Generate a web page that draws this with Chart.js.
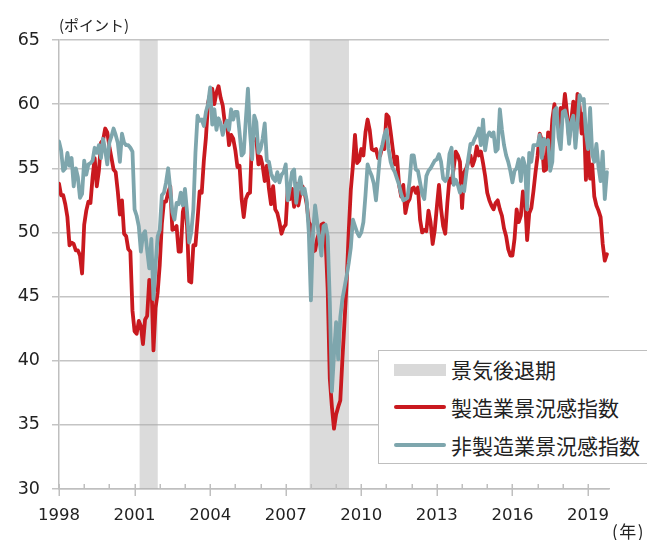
<!DOCTYPE html>
<html><head><meta charset="utf-8">
<script src="https://cdn.jsdelivr.net/npm/chart.js@4/dist/chart.umd.min.js"></script>
<style>
html,body{margin:0;padding:0;background:#fff;overflow:hidden;}
#wrap{position:relative;width:647px;height:540px;overflow:hidden;}
#c{position:absolute;left:0;top:0;}
.t{position:absolute;font-family:"Noto Sans CJK JP","Noto Sans",sans-serif;color:#222;white-space:nowrap;}
#legend{position:absolute;left:378px;top:350px;width:290px;height:112px;border:1.5px solid #bfbfbf;background:#fff;}
.lg{position:absolute;left:15px;width:52px;}
.lt{position:absolute;left:72px;font-family:"Noto Sans CJK JP",sans-serif;font-size:21px;line-height:24px;color:#222;white-space:nowrap;}
</style></head>
<body><div id="wrap">
<canvas id="c" width="647" height="540"></canvas>
<div class="t" id="unitY" style="left:59px;top:14px;font-size:15px;">(ポイント)</div>
<div class="t" id="unitX" style="left:612px;top:518px;font-size:17px;letter-spacing:1.5px;">(年)</div>
<div id="legend">
  <div class="lg" style="top:13px;height:12px;background:#d9d9d9;"></div>
  <div class="lt" style="top:6px;">景気後退期</div>
  <div class="lg" style="top:54px;height:4px;background:#c9191f;border-radius:2px;"></div>
  <div class="lt" style="top:44px;">製造業景況感指数</div>
  <div class="lg" style="top:92px;height:4px;background:#7ea6ad;border-radius:2px;"></div>
  <div class="lt" style="top:82px;">非製造業景況感指数</div>
</div>
</div>
<script>
const startYear = 1998;
const endYear = 2019 + 10/12;
const yearTicks = [1998, 2001, 2004, 2007, 2010, 2013, 2016, 2019];
const seriesNames = ['製造業景況感指数', '非製造業景況感指数', '景気後退期'];
const recessions = [[2001.2, 2001.92], [2007.95, 2009.51]];

// 製造業景況感指数 (monthly, Jan 1998 - Oct 2019)
const mfg = [
 53.8,52.9,52.9,52.2,51.2,49.0,49.2,49.1,48.6,48.6,48.2,46.8,
 50.6,51.7,52.4,52.3,54.3,55.8,53.6,54.8,57.0,57.2,58.1,57.8,
 56.7,55.8,54.9,54.7,53.2,51.4,52.5,49.9,49.7,48.7,48.5,43.9,
 42.3,42.1,43.1,42.7,41.3,43.2,43.5,46.3,46.2,40.8,44.1,45.3,
 47.5,50.7,52.4,52.4,53.1,53.6,50.2,50.3,50.5,48.5,48.5,51.6,
 52.3,50.5,46.2,46.1,49.0,49.0,51.0,53.2,53.1,55.6,57.4,60.1,
 60.8,61.2,60.0,60.9,61.4,60.5,59.9,58.5,58.5,56.8,57.6,57.3,
 56.4,55.1,55.2,52.6,51.2,52.6,53.0,53.1,57.5,57.2,57.3,55.3,
 55.9,55.2,54.0,55.2,53.4,52.2,53.6,51.8,51.5,50.8,49.9,50.4,
 50.6,53.5,52.6,53.4,52.0,53.8,52.1,53.0,53.6,53.1,52.2,50.8,
 50.5,48.5,48.6,49.5,50.0,50.6,50.7,49.4,45.5,38.6,36.4,34.7,
 35.8,36.4,36.9,40.1,43.0,46.0,50.0,53.3,55.2,57.6,55.4,55.6,
 56.5,56.0,57.8,58.8,58.0,56.5,56.4,56.5,55.8,56.0,56.7,56.5,
 59.2,59.0,57.8,56.5,55.3,55.9,53.7,52.8,53.7,51.5,52.3,52.6,
 53.4,53.5,53.1,53.5,51.0,50.0,50.2,50.1,51.7,50.8,49.1,50.2,
 52.0,53.7,51.8,50.5,49.9,52.3,54.2,53.9,55.0,56.3,56.0,55.5,
 51.9,54.7,55.0,55.5,56.0,55.2,55.7,56.7,56.0,56.3,55.4,54.4,
 53.1,52.5,52.1,51.8,52.3,52.5,51.8,51.3,50.3,49.7,48.7,48.2,
 48.2,49.5,51.8,50.8,51.3,53.2,52.6,49.4,51.5,51.9,53.2,54.7,
 56.0,57.7,57.2,54.8,54.9,57.8,56.3,58.8,60.0,58.7,58.2,59.7,
 59.1,60.8,59.3,57.3,58.7,60.2,58.1,60.8,59.8,57.7,59.3,54.1,
 56.6,54.2,55.3,52.8,52.1,51.7,51.2,49.1,47.8,48.3
];

// 非製造業景況感指数 (monthly, Jan 1998 - Oct 2019)
const nonMfg = [
 57.1,56.4,54.8,55.0,56.2,55.2,55.8,53.6,55.0,54.3,52.7,53.0,
 55.6,54.5,55.3,55.4,55.6,56.6,56.2,56.8,55.8,57.3,56.4,55.3,
 57.0,57.5,58.1,57.6,57.0,55.5,57.7,57.0,56.8,56.8,56.6,56.3,
 51.8,51.3,50.5,48.5,49.8,50.1,48.6,47.2,49.5,44.8,47.5,49.7,
 50.2,52.9,53.1,53.9,55.0,53.4,51.6,51.0,52.3,52.2,53.1,52.1,
 53.4,51.6,49.2,50.0,51.8,56.2,59.1,58.7,58.8,58.3,59.4,60.0,
 61.3,58.4,59.6,58.0,58.9,58.5,57.6,58.3,58.7,58.0,59.6,58.8,
 59.4,59.4,57.8,56.0,56.2,58.8,61.2,57.8,55.7,59.1,58.6,56.2,
 56.5,57.3,58.5,55.6,55.5,54.6,54.2,54.0,54.7,53.9,54.5,54.7,
 55.3,52.5,53.5,54.7,54.9,52.3,53.6,54.3,53.0,53.4,52.5,50.0,
 44.7,50.0,52.1,50.8,49.5,48.2,50.5,50.6,49.7,44.6,37.6,40.5,
 43.0,40.1,43.4,44.8,45.7,46.6,47.6,48.8,51.0,50.5,50.0,49.7,
 50.0,50.8,52.9,55.3,54.8,54.4,53.8,52.5,54.3,56.2,56.8,57.6,
 58.0,56.5,55.5,55.0,54.7,54.2,53.7,53.0,52.5,52.6,52.7,54.0,
 56.0,56.0,54.9,54.8,53.9,53.0,52.6,54.4,54.8,55.0,55.3,55.6,
 55.7,56.1,55.5,54.2,54.0,54.3,56.1,56.6,53.7,54.1,53.7,53.1,
 53.6,53.2,54.6,55.8,56.9,56.9,57.3,57.6,58.1,56.8,58.8,56.4,
 57.5,57.8,57.5,57.8,56.3,56.5,59.6,58.0,56.8,56.0,55.5,54.8,
 53.9,54.8,55.0,55.7,54.0,55.8,55.2,51.8,56.2,55.5,56.8,56.8,
 56.8,57.6,55.8,57.3,56.9,57.2,54.8,55.5,59.5,59.7,57.4,56.5,
 59.4,59.5,58.8,56.9,58.6,59.1,56.6,58.5,60.7,60.3,60.4,57.8,
 56.5,59.7,56.1,55.5,56.9,55.1,54.0,56.3,52.6,54.7
];

const toPoints = arr => arr.map((v, i) => ({x: startYear + i / 12, y: v}));
const allYears = [];
for (let y = startYear; y <= Math.floor(endYear); y++) allYears.push(y);

const AXIS_GRAY = '#bfbfbf';

const recessionPlugin = {
  id: 'recession',
  beforeDatasetsDraw(chart) {
    const {ctx, chartArea, scales: {x}} = chart;
    ctx.save();
    ctx.fillStyle = 'rgba(175,175,175,0.45)';
    recessions.forEach(([a, b]) => {
      const x0 = x.getPixelForValue(a), x1 = x.getPixelForValue(b);
      ctx.fillRect(x0, chartArea.top, x1 - x0, chartArea.bottom - chartArea.top);
    });
    ctx.restore();
  }
};

const tickMarkPlugin = {
  id: 'tickmarks',
  afterDraw(chart) {
    const {ctx, chartArea, scales: {x}} = chart;
    ctx.save();
    ctx.strokeStyle = AXIS_GRAY;
    ctx.lineWidth = 1.5;
    allYears.forEach(y => {
      const px = Math.round(x.getPixelForValue(y)) + 0.25;
      const major = yearTicks.includes(y);
      ctx.beginPath();
      ctx.moveTo(px, chartArea.bottom - 5);
      ctx.lineTo(px, chartArea.bottom + (major ? 7 : 0));
      ctx.stroke();
    });
    ctx.restore();
  }
};

new Chart(document.getElementById('c'), {
  type: 'line',
  data: {
    datasets: [
      {label: seriesNames[1], data: toPoints(nonMfg), borderColor: '#7ea6ad', borderWidth: 3.8,
       pointRadius: 0, tension: 0, borderJoinStyle: 'round', borderCapStyle: 'round', fill: false},
      {label: seriesNames[0], data: toPoints(mfg), borderColor: '#c9191f', borderWidth: 3.8,
       pointRadius: 0, tension: 0, borderJoinStyle: 'round', borderCapStyle: 'round', fill: false}
    ]
  },
  options: {
    responsive: false,
    animation: false,
    devicePixelRatio: 1,
    layout: {padding: {top: 40, right: 38, left: 0, bottom: 0}},
    plugins: {legend: {display: false}, tooltip: {enabled: false}},
    scales: {
      x: {
        type: 'linear', min: startYear, max: endYear,
        afterFit(s) { s.height = 51; },
        afterBuildTicks(s) { s.ticks = allYears.map(v => ({value: v})); },
        grid: {display: true, drawOnChartArea: false, drawTicks: false},
        border: {display: true, color: AXIS_GRAY, width: 1.5},
        ticks: {
          autoSkip: false, maxRotation: 0, padding: 17, color: '#222',
          font: {family: 'DejaVu Sans', size: 16.5},
          callback: v => yearTicks.includes(Math.round(v)) ? String(Math.round(v)) : ''
        }
      },
      y: {
        min: 30, max: 65,
        afterFit(s) { s.width = 59; },
        grid: {color: '#c4c4c4', lineWidth: 1.5, tickLength: 7},
        border: {display: true, color: AXIS_GRAY, width: 1.5},
        ticks: {stepSize: 5, padding: 12, color: '#222', font: {family: 'DejaVu Sans', size: 17.5}}
      }
    }
  },
  plugins: [recessionPlugin, tickMarkPlugin]
});
</script>
</body></html>
